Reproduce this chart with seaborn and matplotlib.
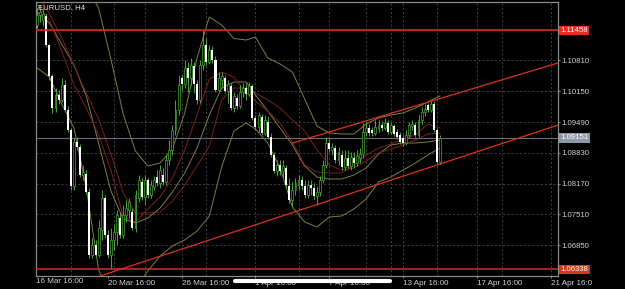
import numpy as np
import matplotlib
matplotlib.use("Agg")
import matplotlib.pyplot as plt
import matplotlib.transforms as mtransforms
from matplotlib.lines import Line2D
import seaborn as sns

# ---------------- data (EURUSD H4 candles, bar index 1..132) ----------------
opens = [
    1.1157, 1.1179, 1.1168, 1.1176, 1.1114, 1.1048, 1.0979, 1.1007, 1.0996, 1.1029, 1.0975, 1.0932,
    1.0812, 1.0906, 1.0896, 1.0836, 1.0838, 1.0799, 1.0664, 1.0686, 1.0664, 1.0718, 1.0786, 1.0707,
    1.0664, 1.0696, 1.0714, 1.0744, 1.0707, 1.0750, 1.0761, 1.0756, 1.0722, 1.0786, 1.0821, 1.0789,
    1.0825, 1.0793, 1.0810, 1.0831, 1.0819, 1.0836, 1.0821, 1.0868, 1.0889, 1.0932, 1.0975, 1.1044,
    1.1031, 1.1065, 1.1044, 1.1069, 1.1031, 1.0996, 1.1071, 1.1114, 1.1078, 1.1104, 1.1082, 1.1018,
    1.1039, 1.1044, 1.1016, 1.1026, 1.0979, 1.1001, 1.0983, 1.1014, 1.1022, 1.1009, 1.1026, 1.0958,
    1.0939, 1.0960, 1.0926, 1.0949, 1.0917, 1.0879, 1.0844, 1.0857, 1.0844, 1.0851, 1.0812, 1.0782,
    1.0804, 1.0814, 1.0825, 1.0812, 1.0793, 1.0814, 1.0808, 1.0791, 1.0799, 1.0825, 1.0857, 1.0904,
    1.0889, 1.0894, 1.0868, 1.0879, 1.0853, 1.0872, 1.0855, 1.0872, 1.0861, 1.0872, 1.0881, 1.0928,
    1.0936, 1.0932, 1.0926, 1.0936, 1.0943, 1.0936, 1.0947, 1.0928, 1.0941, 1.0928, 1.0921, 1.0915,
    1.0904, 1.0921, 1.0941, 1.0943, 1.0921, 1.0954, 1.0971, 1.0986, 1.0975, 1.0988, 1.0932, 1.0864,
]
closes = [
    1.1179, 1.1185, 1.1181, 1.1114, 1.1048, 1.0979, 1.1007, 1.0996, 1.1029, 1.0975, 1.0932, 1.0812,
    1.0906, 1.0896, 1.0836, 1.0842, 1.0799, 1.0664, 1.0686, 1.0664, 1.0722, 1.0786, 1.0707, 1.0664,
    1.0696, 1.0714, 1.0750, 1.0707, 1.0750, 1.0765, 1.0778, 1.0722, 1.0793, 1.0825, 1.0789, 1.0825,
    1.0793, 1.0814, 1.0825, 1.0819, 1.0846, 1.0821, 1.0868, 1.0889, 1.0932, 1.0975, 1.1029, 1.1031,
    1.1065, 1.1044, 1.1071, 1.1031, 1.0996, 1.1071, 1.1114, 1.1078, 1.1104, 1.1082, 1.1018, 1.1044,
    1.1048, 1.1016, 1.1031, 1.0979, 1.1005, 1.0983, 1.1014, 1.1022, 1.1009, 1.1026, 1.0958, 1.0939,
    1.0964, 1.0926, 1.0954, 1.0917, 1.0879, 1.0844, 1.0857, 1.0844, 1.0855, 1.0814, 1.0782, 1.0804,
    1.0819, 1.0825, 1.0812, 1.0793, 1.0814, 1.0808, 1.0791, 1.0799, 1.0825, 1.0857, 1.0904, 1.0891,
    1.0896, 1.0868, 1.0885, 1.0853, 1.0872, 1.0855, 1.0874, 1.0861, 1.0876, 1.0881, 1.0928, 1.0936,
    1.0926, 1.0926, 1.0939, 1.0943, 1.0936, 1.0947, 1.0928, 1.0943, 1.0924, 1.0917, 1.0906, 1.0904,
    1.0921, 1.0943, 1.0945, 1.0921, 1.0954, 1.0971, 1.0977, 1.0975, 1.0988, 1.0932, 1.0864, 1.0915,
]
highs = [
    1.1193, 1.1200, 1.1193, 1.1183, 1.1116, 1.1052, 1.1022, 1.1018, 1.1044, 1.1039, 1.0983, 1.0936,
    1.0915, 1.0917, 1.0902, 1.0857, 1.0846, 1.0808, 1.0701, 1.0696, 1.0739, 1.0804, 1.0793, 1.0718,
    1.0722, 1.0729, 1.0761, 1.0756, 1.0771, 1.0782, 1.0786, 1.0765, 1.0804, 1.0836, 1.0829, 1.0836,
    1.0829, 1.0825, 1.0834, 1.0846, 1.0857, 1.0851, 1.0879, 1.0911, 1.0943, 1.0996, 1.1050, 1.1050,
    1.1082, 1.1078, 1.1086, 1.1078, 1.1039, 1.1082, 1.11458, 1.1129, 1.1114, 1.1112, 1.1091, 1.1056,
    1.1056, 1.1050, 1.1039, 1.1033, 1.1014, 1.1009, 1.1029, 1.1033, 1.1033, 1.1035, 1.1031, 1.0964,
    1.0971, 1.0966, 1.0964, 1.0962, 1.0926, 1.0885, 1.0868, 1.0868, 1.0868, 1.0857, 1.0829, 1.0821,
    1.0829, 1.0836, 1.0834, 1.0825, 1.0825, 1.0825, 1.0819, 1.0812, 1.0834, 1.0868, 1.0917, 1.0915,
    1.0904, 1.0900, 1.0896, 1.0889, 1.0889, 1.0889, 1.0885, 1.0885, 1.0889, 1.0894, 1.0947, 1.0949,
    1.0945, 1.0939, 1.0954, 1.0954, 1.0951, 1.0958, 1.0954, 1.0949, 1.0945, 1.0934, 1.0928, 1.0921,
    1.0932, 1.0949, 1.0954, 1.0949, 1.0964, 1.0981, 1.0988, 1.0990, 1.0994, 1.0994, 1.0936, 1.0921,
]
lows = [
    1.1151, 1.1163, 1.1155, 1.1110, 1.1039, 1.0969, 1.0971, 1.0988, 1.0992, 1.0971, 1.0928, 1.0804,
    1.0804, 1.0889, 1.0831, 1.0825, 1.0795, 1.0658, 1.0658, 1.0660, 1.0660, 1.0696, 1.0701, 1.0658,
    1.06338, 1.0675, 1.0686, 1.0701, 1.0701, 1.0735, 1.0744, 1.0718, 1.0714, 1.0778, 1.0782, 1.0771,
    1.0786, 1.0786, 1.0804, 1.0812, 1.0808, 1.0814, 1.0814, 1.0857, 1.0879, 1.0921, 1.0964, 1.1018,
    1.1022, 1.1014, 1.1029, 1.1011, 1.0988, 1.0990, 1.1061, 1.1071, 1.1074, 1.1076, 1.1014, 1.1014,
    1.1022, 1.1011, 1.0990, 1.0975, 1.0971, 1.0977, 1.0979, 1.1003, 1.0996, 1.1005, 1.0954, 1.0932,
    1.0928, 1.0921, 1.0921, 1.0913, 1.0874, 1.0840, 1.0834, 1.0836, 1.0829, 1.0808, 1.0776, 1.0769,
    1.0793, 1.0804, 1.0804, 1.0786, 1.0786, 1.0793, 1.0784, 1.0771, 1.0791, 1.0819, 1.0851, 1.0885,
    1.0879, 1.0861, 1.0857, 1.0846, 1.0846, 1.0851, 1.0846, 1.0851, 1.0855, 1.0861, 1.0872, 1.0919,
    1.0919, 1.0919, 1.0921, 1.0928, 1.0930, 1.0932, 1.0924, 1.0924, 1.0919, 1.0913, 1.0902, 1.0898,
    1.0900, 1.0915, 1.0932, 1.0917, 1.0917, 1.0945, 1.0962, 1.0971, 1.0971, 1.0928, 1.0859, 1.0859,
]

# indicator readings (sampled at these bar indices)
ind_x = [1, 5, 9, 13, 17, 21, 25, 29, 33, 37, 41, 45, 49, 53, 57, 61, 65,
         69, 72, 76, 80, 84, 88, 92, 96, 100, 104, 108, 112, 116, 120, 124, 128, 132]
bb_upper = [1.13606, 1.13284, 1.12963, 1.12706, 1.12406, 1.11935, 1.10842, 1.09663, 1.08870,
            1.08549, 1.08613, 1.08913, 1.09685, 1.10863, 1.11742, 1.11570, 1.11281, 1.11249,
            1.11313, 1.10863, 1.10735, 1.10563, 1.09985, 1.09406, 1.09256, 1.09235, 1.09235,
            1.09449, 1.09578, 1.09642, 1.09685, 1.09792, 1.09920, 1.10049]
bb_middle = [1.11849, 1.11613, 1.11163, 1.10713, 1.10049, 1.09042, 1.08013, 1.07413, 1.07328,
             1.07435, 1.07649, 1.07992, 1.08399, 1.08935, 1.09642, 1.10220, 1.10349, 1.10349,
             1.10070, 1.09728, 1.09363, 1.08999, 1.08549, 1.08313, 1.08271, 1.08271, 1.08356,
             1.08506, 1.08806, 1.08999, 1.09042, 1.09042, 1.09063, 1.09106]
bb_lower = [1.10649, 1.10456, 1.09878, 1.09363, 1.08078, 1.06321, 1.05764, 1.05721, 1.05914,
            1.06299, 1.06621, 1.06835, 1.06964, 1.07156, 1.07478, 1.08528, 1.09299, 1.09470,
            1.09342, 1.09042, 1.08506, 1.07671, 1.07349, 1.07242, 1.07456, 1.07478, 1.07628,
            1.07842, 1.08206, 1.08313, 1.08463, 1.08613, 1.08785, 1.08935]
ma_fast = [1.12020, 1.11677, 1.11013, 1.10285, 1.09792, 1.09213, 1.08463, 1.07456, 1.07349,
           1.07628, 1.07885, 1.08292, 1.08892, 1.09642, 1.10413, 1.10563, 1.10456, 1.10113,
           1.09942, 1.09728, 1.09470, 1.09063, 1.08571, 1.08421, 1.08399, 1.08399, 1.08571,
           1.08785, 1.08935, 1.09021, 1.09128, 1.09213, 1.09449, 1.09363]
ma_slow = [1.12277, 1.11806, 1.11292, 1.10692, 1.10113, 1.09556, 1.08806, 1.07971, 1.07542,
           1.07542, 1.07563, 1.07799, 1.08142, 1.08549, 1.08978, 1.09963, 1.10220, 1.10220,
           1.10113, 1.09963, 1.09792, 1.09535, 1.09299, 1.08892, 1.08571, 1.08463, 1.08506,
           1.08656, 1.08828, 1.08913, 1.08999, 1.09106, 1.09235, 1.09256]

# drawn objects
channel_upper_x = [84, 171]
channel_upper_y = [1.0904, 1.1077]
channel_lower_x = [20.5, 171]
channel_lower_y = [1.0617, 1.0944]
resistance = 1.11458
support = 1.06338
bid = 1.09151

# axis texts
ytick_vals = [1.06850, 1.07510, 1.08170, 1.08830, 1.09490, 1.10150, 1.10810, 1.11470]
xtick_bars = [24, 48, 72, 96, 120, 144, 168]
xtick_labels = ["20 Mar 16:00", "26 Mar 16:00", "1 Apr 16:00", "7 Apr 16:00",
                "13 Apr 16:00", "17 Apr 16:00", "21 Apr 16:0"]
first_label = "16 Mar 16:00"
grid_bars = [12, 26, 36, 48, 56, 72, 86, 96, 108, 116, 120, 131, 144, 152, 168]
title = "EURUSD, H4"

# ---------------- styling ----------------
sns.set_theme(style="dark")
plt.rcParams.update({
    "font.family": ["Liberation Sans", "DejaVu Sans"],
    "figure.facecolor": "black",
    "axes.facecolor": "black",
    "savefig.facecolor": "black",
})
GREEN = "#46a834"
OLIVE = "#7e7e46"
MAROON = "#7c2020"
RED = "#e0301e"
GRIDC = "#4a4a4a"
TXT = "#d2d2d2"
FRAME = "#8a8a8a"

fig = plt.figure(figsize=(6.25, 2.89), dpi=100)
ax = fig.add_axes([36 / 625, 13 / 289, 522 / 625, 274.5 / 289])
ax.set_facecolor("black")
ax.set_xlim(0.65, 170.35)
ax.set_ylim(1.06192, 1.12074)

# grid
ax.set_yticks(ytick_vals)
ax.set_yticklabels([f"{v:.5f}" for v in ytick_vals])
ax.yaxis.grid(True, color=GRIDC, linestyle=(0, (2.5, 2.5)), linewidth=0.6, zorder=0.5)
for b in grid_bars:
    ax.axvline(b, color=GRIDC, linestyle=(0, (2.5, 2.5)), linewidth=0.6, zorder=0.5)

# indicators
for arr, col in [(bb_upper, OLIVE), (bb_middle, OLIVE), (bb_lower, OLIVE),
                 (ma_fast, MAROON), (ma_slow, MAROON)]:
    sns.lineplot(x=ind_x, y=arr, ax=ax, color=col, linewidth=0.7,
                 estimator=None, sort=False, legend=False, zorder=1)

# candles
o = np.array(opens); c = np.array(closes); h = np.array(highs); l = np.array(lows)
x = np.arange(1, len(o) + 1)
bull = c >= o
ax.vlines(x, l, h, color=GREEN, linewidth=0.7, zorder=2)
bottom = np.minimum(o, c)
height = np.maximum(np.abs(c - o), 0.00006)
ax.bar(x[bull], height[bull], bottom=bottom[bull], width=0.62, color="black",
       edgecolor=GREEN, linewidth=0.5, zorder=3)
ax.bar(x[~bull], height[~bull], bottom=bottom[~bull], width=0.66, color="white",
       edgecolor="none", zorder=3)

# objects
ax.axhline(resistance, color="#d42a1c", linewidth=1.2, zorder=4)
ax.axhline(support, color="#c8281c", linewidth=1.2, zorder=4)
ax.axhline(bid, color="#6a6a7a", linewidth=0.8, zorder=1.5)
ax.plot(channel_upper_x, channel_upper_y, color=RED, linewidth=0.9, zorder=4)
ax.plot(channel_lower_x, channel_lower_y, color=RED, linewidth=0.9, zorder=4)

# axes frame and ticks
for s in ax.spines.values():
    s.set_visible(True)
    s.set_color(FRAME)
    s.set_linewidth(0.9)
ax.yaxis.tick_right()
ax.tick_params(axis="y", which="both", right=True, left=False, length=1.6, width=0.7,
               color=FRAME, pad=0.9, labelsize=5.6, labelcolor=TXT)
ax.set_xticks(xtick_bars)
ax.set_xticklabels(xtick_labels)
ax.tick_params(axis="x", bottom=True, length=1.6, width=0.7, color=FRAME, pad=1.2,
               labelsize=5.8, labelcolor=TXT)
for t in ax.get_xticklabels():
    t.set_ha("left")
ax.set_xlabel(""); ax.set_ylabel("")

ax.text(0.0, -0.008, first_label, transform=ax.transAxes, ha="left", va="top",
        fontsize=5.8, color=TXT, clip_on=False)
ax.text(0.003, 0.978, title, transform=ax.transAxes, ha="left", va="center",
        fontsize=5.6, color="#e6e6e6", zorder=6)

blend = mtransforms.blended_transform_factory(ax.transAxes, ax.transData)
for val, fc in [(resistance, RED), (support, RED), (bid, "#8e98a8")]:
    ax.text(1.0048, val, f"{val:.5f}", transform=blend, ha="left", va="center",
            fontsize=5.6, color="white", clip_on=False, zorder=7,
            bbox=dict(boxstyle="square,pad=0.15", fc=fc, ec="none"))

# phone home indicator overlay
fig.add_artist(Line2D([235 / 625, 390 / 625], [1 - 281.3 / 289] * 2, transform=fig.transFigure,
                      color="white", linewidth=3.0, solid_capstyle="round", zorder=10))

fig.savefig("out.png", dpi=100)
